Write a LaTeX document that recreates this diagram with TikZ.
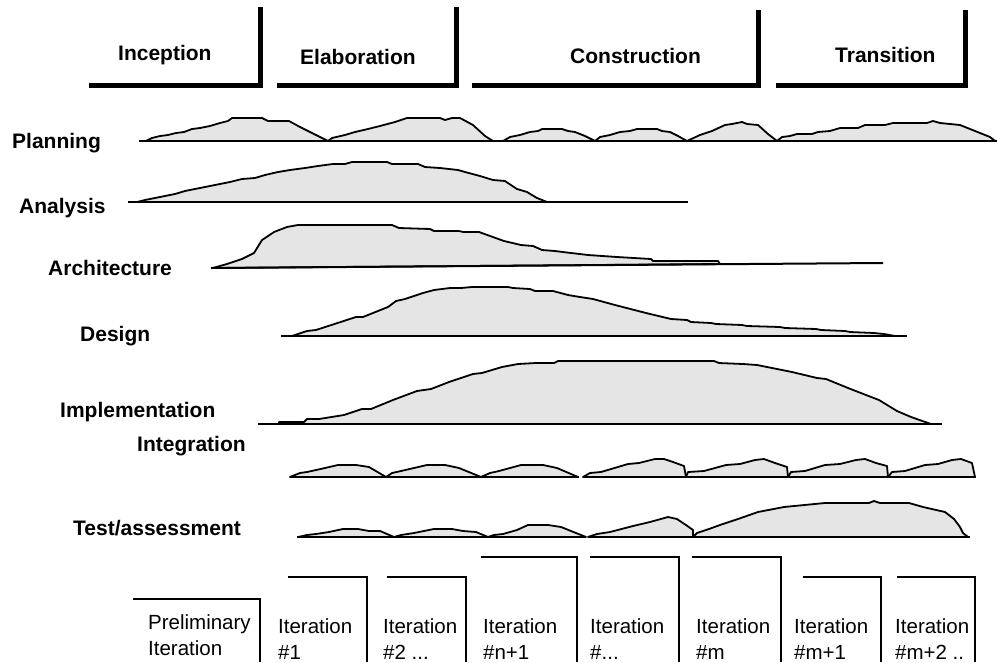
\documentclass[tikz,border=0pt]{standalone}
\usepackage{fontspec}
\setmainfont{Liberation Sans}
\definecolor{humpgray}{RGB}{229,229,229}
\begin{document}
\begin{tikzpicture}[x=1pt,y=-1pt,
  lbl/.style={font=\fontsize{21}{25}\selectfont\bfseries, inner sep=0pt, anchor=base west},
  itl/.style={font=\fontsize{20.5}{25}\selectfont, inner sep=0pt, anchor=base west},
  phase/.style={line width=5pt, line join=miter, line cap=butt},
  iterbr/.style={line width=1.5pt, line join=miter},
  hump/.style={draw, line width=1.8pt, fill=humpgray, line join=round},
  baseln/.style={line width=2pt}]
\useasboundingbox (0,0) rectangle (997,662);
\clip (0,0) rectangle (997,662);

% ---------- phases ----------
\draw[phase] (89,85) -- (260,85) -- (260,7);
\draw[phase] (277,85) -- (456,85) -- (456,7);
\draw[phase] (472,85) -- (758,85) -- (758,10);
\draw[phase] (776,85) -- (965,85) -- (965,10);
\node[lbl] (inception) at (118,60) {Inception};
\node[lbl] (elaboration) at (300,64) {Elaboration};
\node[lbl] (construction) at (570,63) {Construction};
\node[lbl] (transition) at (835,62) {Transition};

% ---------- row labels ----------
\node[lbl] (planning) at (12,148) {Planning};
\node[lbl] (analysis) at (19,213) {Analysis};
\node[lbl] (architecture) at (48,275) {Architecture};
\node[lbl] (design) at (80,341) {Design};
\node[lbl] (implementation) at (60,417) {Implementation};
\node[lbl] (integration) at (137,451) {Integration};
\node[lbl] (test) at (73,535) {Test/assessment};

% ---------- Planning ----------
\draw[hump] (146,141) -- (152,138) -- (160,136) -- (168,135) -- (176,133) -- (184,132) -- (192,129) -- (200,128) -- (210,126) -- (220,123) -- (228,121) -- (232,118) -- (262,118) -- (268,121) -- (289,121) -- (300,127) -- (312,133) -- (328,141) -- cycle;
\draw[hump] (328,141) -- (332,138) -- (345,135) -- (355,132) -- (368,129) -- (380,126) -- (395,122) -- (407,118) -- (440,118) -- (445,120) -- (452,118) -- (460,118) -- (473,125) -- (485,136) -- (493,141) -- cycle;
\draw[hump] (503,141) -- (510,137) -- (520,135) -- (530,132) -- (538,131) -- (542,129) -- (562,129) -- (568,131) -- (575,132) -- (585,136) -- (595,141) -- cycle;
\draw[hump] (595,141) -- (600,137) -- (610,135) -- (620,132) -- (630,131) -- (637,129) -- (657,129) -- (662,131) -- (670,132) -- (678,136) -- (687,141) -- cycle;
\draw[hump] (687,141) -- (700,135) -- (712,131) -- (725,125) -- (732,124) -- (742,122) -- (747,124) -- (758,125) -- (768,134) -- (777,141) -- cycle;
\draw[hump] (777,141) -- (782,137) -- (790,136) -- (797,134) -- (812,134) -- (818,132) -- (830,131) -- (840,128) -- (858,128) -- (865,125) -- (885,125) -- (893,123) -- (927,123) -- (933,121) -- (940,123) -- (950,124) -- (960,125) -- (970,129) -- (980,133) -- (990,137) -- (995,141) -- cycle;
\draw[baseln] (139,141) -- (997,141);

% ---------- Analysis ----------
\draw[hump] (137,202) -- (145,200) -- (155,198) -- (165,196) -- (175,194) -- (185,191) -- (195,189) -- (205,187) -- (215,185) -- (230,182) -- (242,179) -- (255,178) -- (265,175) -- (278,172) -- (290,170) -- (305,168) -- (318,166) -- (333,164) -- (345,164) -- (352,162) -- (387,162) -- (392,164) -- (418,164) -- (425,167) -- (440,168) -- (458,170) -- (465,172) -- (480,176) -- (493,180) -- (505,181) -- (517,189) -- (527,192) -- (537,198) -- (547,202) -- cycle;
\draw[baseln] (128,202) -- (688,202);

% ---------- Architecture ----------
\draw[hump] (213,268) -- (227,264) -- (242,259) -- (254,253) -- (262,240) -- (274,232) -- (287,227) -- (298,225) -- (392,225) -- (399,228) -- (430,229) -- (434,231) -- (459,231) -- (463,232) -- (479,232) -- (504,241) -- (521,245) -- (533,246) -- (542,250) -- (555,251) -- (571,253) -- (588,255) -- (617,257) -- (651,259) -- (653,261) -- (718,261) -- (720,264) -- cycle;
\draw[baseln] (211,268) -- (883,263);

% ---------- Design ----------
\draw[hump] (292,336) -- (307,331) -- (316,330) -- (356,317) -- (363,317) -- (388,307) -- (396,301) -- (405,299) -- (423,293) -- (434,290) -- (450,288) -- (461,288) -- (472,287) -- (508,287) -- (513,288) -- (530,289) -- (535,291) -- (553,291) -- (568,295) -- (580,297) -- (593,299) -- (615,305) -- (646,313) -- (671,319) -- (687,320) -- (691,322) -- (711,323) -- (716,324) -- (742,325) -- (747,326) -- (780,327) -- (785,328) -- (816,329) -- (821,330) -- (845,331) -- (850,332) -- (874,333) -- (884,334) -- (895,336) -- cycle;
\draw[baseln] (281,336) -- (907,336);

% ---------- Implementation ----------
\draw[hump] (279,424) -- (279,422) -- (304,422) -- (307,419) -- (319,419) -- (344,415) -- (362,409) -- (371,409) -- (393,400) -- (417,391) -- (431,389) -- (449,382) -- (473,374) -- (482,373) -- (502,367) -- (518,364) -- (536,363) -- (554,363) -- (558,361) -- (714,361) -- (719,363) -- (743,364) -- (757,365) -- (772,368) -- (792,372) -- (817,378) -- (826,379) -- (848,388) -- (866,395) -- (879,400) -- (897,411) -- (911,417) -- (931,424) -- cycle;
\draw[baseln] (258,424) -- (942,424);

% ---------- Integration ----------
\draw[hump] (290,477) -- (300,473) -- (307,472) -- (325,468) -- (338,465) -- (356,465) -- (369,467) -- (386,477) -- cycle;
\draw[hump] (386,477) -- (392,473) -- (401,471) -- (427,465) -- (445,465) -- (459,468) -- (481,477) -- cycle;
\draw[hump] (481,477) -- (490,473) -- (499,471) -- (521,465) -- (543,465) -- (557,468) -- (578,477) -- cycle;
\draw[hump] (583,477) -- (590,473) -- (601,472) -- (628,464) -- (639,463) -- (655,459) -- (664,459) -- (673,462) -- (684,466) -- (686,477) -- cycle;
\draw[hump] (686,477) -- (688,472) -- (704,471) -- (726,465) -- (740,464) -- (755,460) -- (764,459) -- (775,463) -- (787,467) -- (788,477) -- cycle;
\draw[hump] (788,477) -- (791,472) -- (805,471) -- (825,465) -- (840,464) -- (856,460) -- (865,459) -- (876,463) -- (887,466) -- (888,477) -- cycle;
\draw[hump] (888,477) -- (892,472) -- (905,471) -- (925,465) -- (938,464) -- (952,460) -- (961,459) -- (972,463) -- (975,477) -- cycle;
\draw[baseln] (290,477) -- (579,477);
\draw[baseln] (583,477) -- (976,477);

% ---------- Test/assessment ----------
\draw[hump] (298,537) -- (307,535) -- (316,534) -- (329,532) -- (343,529) -- (358,529) -- (369,531) -- (380,531) -- (394,537) -- cycle;
\draw[hump] (394,537) -- (401,535) -- (414,533) -- (434,529) -- (452,529) -- (463,531) -- (476,532) -- (488,537) -- cycle;
\draw[hump] (488,537) -- (494,535) -- (503,534) -- (517,530) -- (528,525) -- (548,525) -- (561,527) -- (586,537) -- cycle;
\draw[hump] (588,537) -- (597,534) -- (610,532) -- (633,526) -- (650,522) -- (668,517) -- (677,519) -- (686,525) -- (693,530) -- (693,537) -- cycle;
\draw[hump] (693,537) -- (697,533) -- (709,529) -- (720,525) -- (738,519) -- (758,512) -- (784,507) -- (825,503) -- (869,503) -- (874,501) -- (880,503) -- (909,503) -- (923,507) -- (945,512) -- (954,519) -- (960,527) -- (963,533) -- (968,537) -- cycle;
\draw[baseln] (297,537) -- (586,537);
\draw[baseln] (588,537) -- (970,537);

% ---------- iteration brackets ----------
\draw[iterbr] (133,599) -- (260,599) -- (260,662);
\draw[iterbr] (288,577) -- (367,577) -- (367,662);
\draw[iterbr] (387,577) -- (466,577) -- (466,662);
\draw[iterbr] (481,557) -- (577,557) -- (577,662);
\draw[iterbr] (590,557) -- (679,557) -- (679,662);
\draw[iterbr] (692,557) -- (781,557) -- (781,662);
\draw[iterbr] (803,577) -- (881,577) -- (881,662);
\draw[iterbr] (897,577) -- (975,577) -- (975,662);

\node[itl] (pre1) at (148,629) {Preliminary};
\node[itl] (pre2) at (148,655) {Iteration};
\node[itl] (i1a) at (278,633) {Iteration};
\node[itl] (i1b) at (278,659) {\#1};
\node[itl] (i2a) at (383,633) {Iteration};
\node[itl] (i2b) at (383,659) {\#2 ...};
\node[itl] (i3a) at (483,633) {Iteration};
\node[itl] (i3b) at (483,659) {\#n+1};
\node[itl] (i4a) at (590,633) {Iteration};
\node[itl] (i4b) at (590,659) {\#...};
\node[itl] (i5a) at (696,633) {Iteration};
\node[itl] (i5b) at (696,659) {\#m};
\node[itl] (i6a) at (794,633) {Iteration};
\node[itl] (i6b) at (794,659) {\#m+1};
\node[itl] (i7a) at (895,633) {Iteration};
\node[itl] (i7b) at (895,659) {\#m+2 ..};
\end{tikzpicture}
\end{document}
